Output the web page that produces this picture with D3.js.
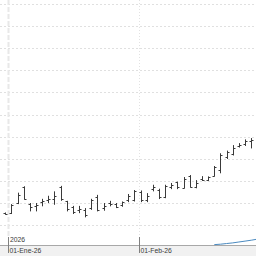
<!DOCTYPE html>
<html lang="es">
<head>
<meta charset="UTF-8">
<title>OHLC</title>
<script src="https://d3js.org/d3.v7.min.js"></script>
<style>
  body { margin: 0; background: #fff; }
  svg { display: block; background: #fff; }
  .lbl { font-family: "Liberation Sans", Arial, sans-serif; font-size: 6.8px; fill: #3a3a3a; }
</style>
</head>
<body>
<svg id="chart" width="256" height="256"></svg>
<script>
// trading days shown (last bar of 2025, then Jan/Feb 2026)
const dates = ["2025-12-31",
  "2026-01-02","2026-01-05","2026-01-06","2026-01-07","2026-01-08","2026-01-09",
  "2026-01-12","2026-01-13","2026-01-14","2026-01-15","2026-01-16",
  "2026-01-19","2026-01-20","2026-01-21","2026-01-22","2026-01-23",
  "2026-01-26","2026-01-27","2026-01-28","2026-01-29","2026-01-30",
  "2026-02-02","2026-02-03","2026-02-04","2026-02-05","2026-02-06",
  "2026-02-09","2026-02-10","2026-02-11","2026-02-12","2026-02-13",
  "2026-02-16","2026-02-17","2026-02-18","2026-02-19","2026-02-20",
  "2026-02-23","2026-02-24","2026-02-25","2026-02-26"];

const open  = [10.52,10.52,10.98,11.70,10.95,10.84,11.02,11.11,11.16,11.70,
               11.07,10.80,10.66,10.66,10.75,11.25,10.75,10.98,10.93,10.89,
               11.11,11.11,11.48,11.11,11.61,11.57,11.25,11.70,11.93,11.66,
               12.20,11.70,12.07,12.02,12.20,12.48,13.07,13.20,13.57,13.66,13.80];
const high  = [10.55,10.93,11.45,11.74,10.98,10.98,11.17,11.31,11.51,11.76,
               11.08,10.85,10.85,10.75,11.17,11.35,10.98,11.08,10.98,11.05,
               11.39,11.57,11.55,11.43,11.81,11.63,11.81,11.89,11.95,12.16,
               12.25,12.02,12.20,12.19,12.66,13.24,13.36,13.61,13.70,13.87,13.93];
const low   = [10.45,10.48,10.93,11.13,10.60,10.60,10.83,10.98,10.90,11.08,
               10.60,10.48,10.52,10.33,10.67,10.60,10.63,10.83,10.75,10.81,
               11.02,11.05,11.02,11.02,11.51,11.16,11.20,11.61,11.61,11.64,
               11.68,11.65,11.98,11.98,12.18,12.33,12.98,13.14,13.50,13.57,13.46];
const close = [10.48,10.89,11.34,11.16,10.80,10.91,11.07,11.16,11.30,11.14,
               10.70,10.57,10.70,10.43,11.11,10.66,10.84,10.95,10.80,11.02,
               11.30,11.52,11.11,11.30,11.70,11.25,11.75,11.80,11.70,12.07,
               11.70,11.89,12.02,12.16,12.61,13.16,13.30,13.48,13.61,13.80,13.86];

// blue indicator line, starts at bar 34
const indStart = 34;
const indicator = [9.09,9.11,9.14,9.17,9.21,9.25,9.29,9.34];

const gridVals = [10,11,12,13,14,15,16,17,18,19,20];
// month marks, as fractional bar positions
const monthTicks = [
  {at: 0.45, label: "01-Ene-26", year: "2026"},
  {at: 21.7, label: "01-Feb-26", year: null}
];

const W = 256, H = 256;
const svg = d3.select("#chart");

const x = d3.scaleLinear().domain([0, 40]).range([5.2, 251.2]);
const y = d3.scaleLinear().domain([10, 20]).range([224.6, 4.4]);
const px = v => Math.round(x(v)) + 0.5;

// bottom band
svg.append("rect").attr("x", 0).attr("y", 246).attr("width", W).attr("height", 10).attr("fill", "#f1f1f1");

// horizontal grid
svg.selectAll(".hgrid").data(gridVals).enter().append("line")
  .attr("class", "hgrid")
  .attr("x1", 0).attr("x2", W)
  .attr("y1", d => Math.round(y(d)) + 0.5).attr("y2", d => Math.round(y(d)) + 0.5)
  .attr("stroke", "#e0e0e0").attr("stroke-dasharray", "2,2");

// vertical month lines
monthTicks.forEach(m => {
  const mx = px(m.at);
  if (m.year) {
    svg.append("line").attr("x1", mx).attr("x2", mx).attr("y1", 0).attr("y2", 237)
      .attr("stroke", "#e8e8e8").attr("stroke-width", 2).attr("stroke-dasharray", "5,2");
  } else {
    svg.append("line").attr("x1", mx).attr("x2", mx).attr("y1", 0).attr("y2", 237)
      .attr("stroke", "#e2e2e2").attr("stroke-dasharray", "1,2");
  }
});

svg.append("line").attr("x1", 0).attr("x2", W).attr("y1", 245.5).attr("y2", 245.5)
  .attr("stroke", "#a8a8a8");

// indicator line
const ind = indicator.map((v, k) => ({i: indStart + k, v}));
svg.append("path").datum(ind)
  .attr("fill", "none").attr("stroke", "#4a8ac0").attr("stroke-width", 1)
  .attr("d", d3.line().x(d => x(d.i)).y(d => y(d.v)));

// OHLC bars
const bars = dates.map((d, i) => ({d, i, o: open[i], h: high[i], l: low[i], c: close[i]}));
const g = svg.selectAll(".bar").data(bars).enter().append("g").attr("class", "bar")
  .attr("stroke", "#3a3a3a").attr("stroke-width", 1);
g.append("line")
  .attr("x1", d => px(d.i)).attr("x2", d => px(d.i))
  .attr("y1", d => y(d.h)).attr("y2", d => y(d.l));
g.append("line")
  .attr("x1", d => px(d.i) - 2).attr("x2", d => px(d.i))
  .attr("y1", d => Math.round(y(d.o)) + 0.5).attr("y2", d => Math.round(y(d.o)) + 0.5);
g.append("line")
  .attr("x1", d => px(d.i)).attr("x2", d => px(d.i) + 2)
  .attr("y1", d => Math.round(y(d.c)) + 0.5).attr("y2", d => Math.round(y(d.c)) + 0.5);

// x axis ticks and labels
monthTicks.forEach(m => {
  const mx = px(m.at);
  svg.append("line").attr("x1", mx).attr("x2", mx).attr("y1", 237).attr("y2", 253)
    .attr("stroke", "#808080");
  svg.append("text").attr("class", "lbl").attr("x", mx + 1).attr("y", 252.5).text(m.label);
  if (m.year) {
    svg.append("text").attr("class", "lbl").attr("x", mx + 1.5).attr("y", 241.5).text(m.year);
  }
});
</script>
</body>
</html>
